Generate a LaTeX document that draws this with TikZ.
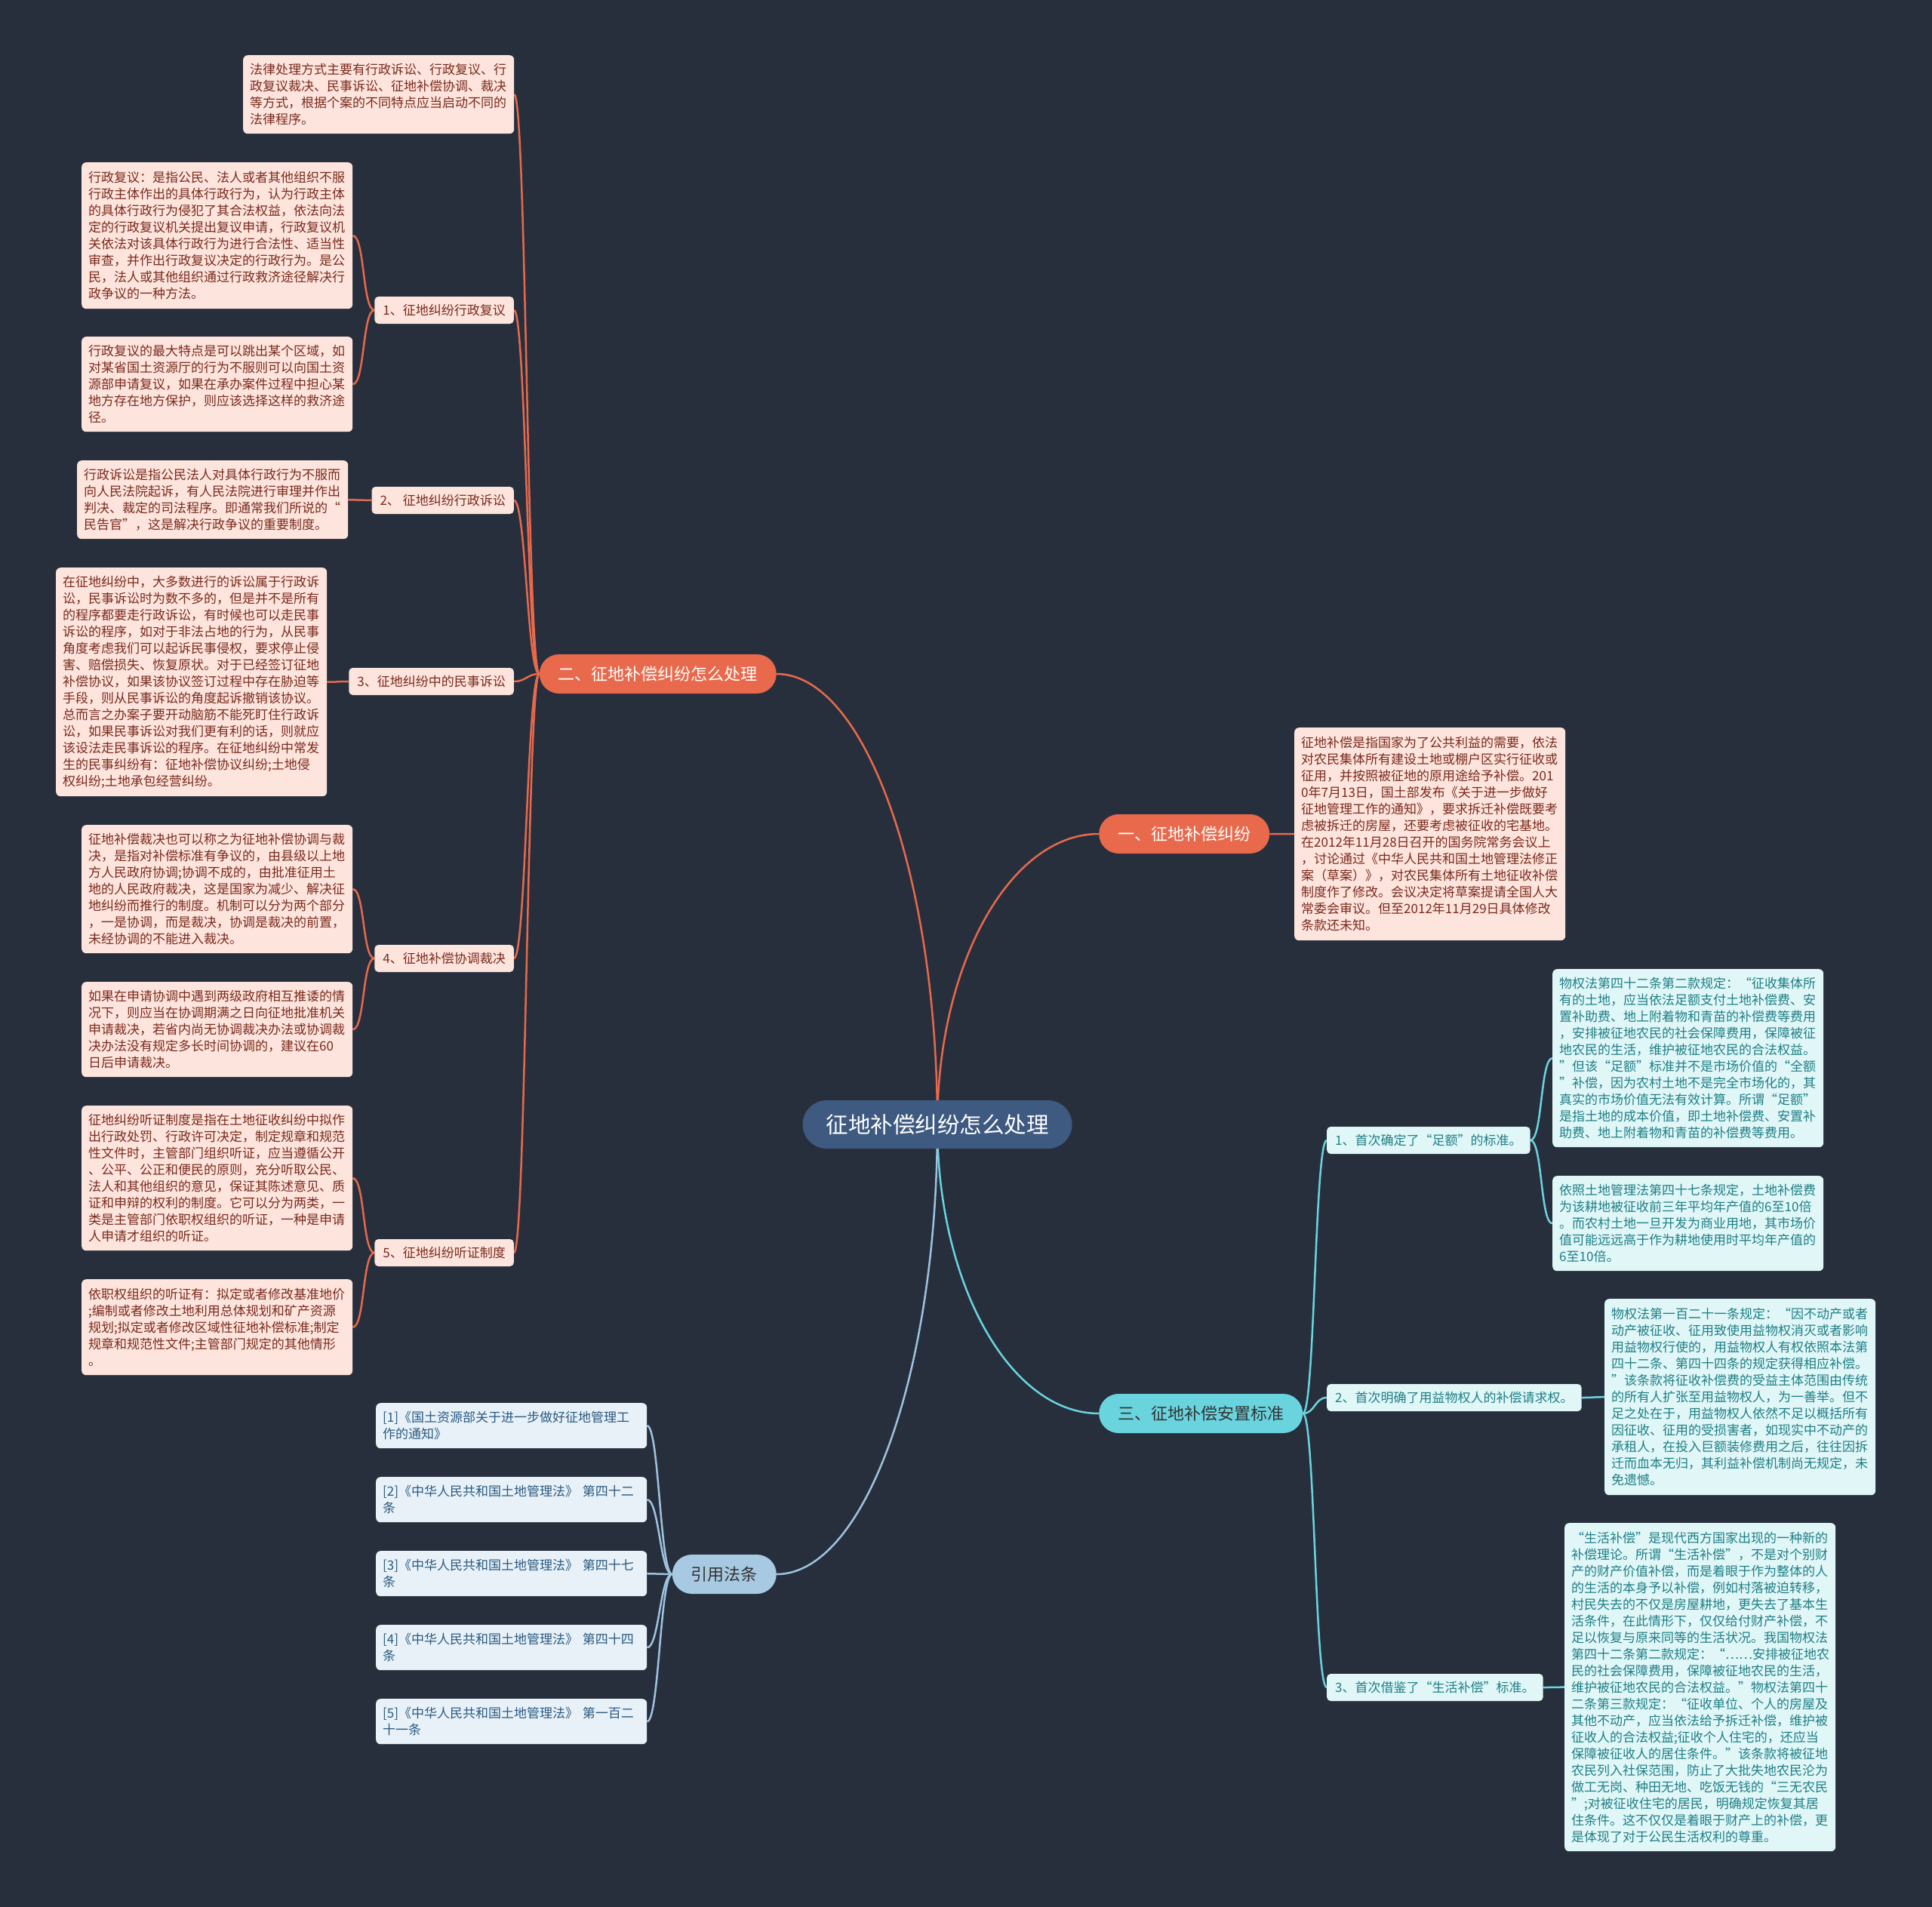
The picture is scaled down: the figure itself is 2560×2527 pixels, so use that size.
\documentclass[tikz,border=0pt]{standalone}
\usepackage{fontspec}
\setmainfont{Noto Sans CJK SC}
\definecolor{bgc}{HTML}{272F3D}
\definecolor{opink}{HTML}{FDE4DD}
\definecolor{otext}{HTML}{7A2A1C}
\definecolor{oline}{HTML}{E8694C}
\definecolor{ofill}{HTML}{E8694C}
\definecolor{cpale}{HTML}{E0F6F7}
\definecolor{ctext}{HTML}{1E7F86}
\definecolor{cline}{HTML}{6AD4DE}
\definecolor{cfill}{HTML}{6AD4DE}
\definecolor{bpale}{HTML}{E8F1F8}
\definecolor{btext}{HTML}{2A5A80}
\definecolor{bline}{HTML}{9EC3DF}
\definecolor{bfill}{HTML}{A8C9E2}
\definecolor{centfill}{HTML}{3E5A80}
\pgfdeclarelayer{bgl}
\pgfdeclarelayer{edgel}
\pgfsetlayers{bgl,edgel,main}
\tikzset{
  x=1pt, y=-1pt,
  cnode/.style={fill=centfill, text=white, font=\fontsize{29.5pt}{32pt}\selectfont, rounded corners=32pt, minimum height=64pt, inner xsep=31pt, inner ysep=0pt},
  onode/.style={fill=ofill, text=white, font=\fontsize{22pt}{26pt}\selectfont, rounded corners=26pt, minimum height=52pt, inner xsep=25pt, inner ysep=0pt},
  cynode/.style={onode, fill=cfill, text=black!80},
  blnode/.style={onode, fill=bfill, text=black!80},
  olabel/.style={fill=opink, text=otext, font=\fontsize{17pt}{22pt}\selectfont, rounded corners=5pt, minimum height=36pt, inner xsep=11pt, inner ysep=0pt},
  clabel/.style={olabel, fill=cpale, text=ctext},
  obox/.style={fill=opink, text=otext, font=\fontsize{17pt}{22pt}\selectfont, rounded corners=6pt, inner xsep=9pt, inner ysep=0pt, text width=341pt, align=left, anchor=north west},
  cbox/.style={obox, fill=cpale, text=ctext},
  bbox/.style={obox, fill=bpale, text=btext},
  olink/.style={draw=oline, line width=2.5pt},
  clink/.style={draw=cline, line width=2.5pt},
  blink/.style={draw=bline, line width=2.5pt},
}
\newcommand{\leftlink}[3]{\draw[#1] (#2.west) .. controls +(-16,0) and +(16,0) .. (#3.east);}
\newcommand{\rightlink}[3]{\draw[#1] (#2.east) .. controls +(16,0) and +(-16,0) .. (#3.west);}
\begin{document}
\begin{tikzpicture}
\begin{pgfonlayer}{bgl}
\fill[bgc] (0,0) rectangle (2560,2527);
\end{pgfonlayer}
\useasboundingbox (0,0) rectangle (2560,2527);

% central and branches
\node[cnode] (C) at (1242,1490) {征地补偿纠纷怎么处理};
\node[onode, anchor=east] (B2) at (1029,893) {二、征地补偿纠纷怎么处理};
\node[onode, anchor=west] (B1) at (1456,1105) {一、征地补偿纠纷};
\node[cynode, anchor=west] (B3) at (1456,1873) {三、征地补偿安置标准};
\node[blnode, anchor=east] (B4) at (1029,2086) {引用法条};

% left sub labels
\node[olabel, anchor=east] (S1) at (681,411) {1、征地纠纷行政复议};
\node[olabel, anchor=east] (S2) at (681,663) {2、 征地纠纷行政诉讼};
\node[olabel, anchor=east] (S3) at (681,903) {3、征地纠纷中的民事诉讼};
\node[olabel, anchor=east] (S4) at (681,1270) {4、征地补偿协调裁决};
\node[olabel, anchor=east] (S5) at (681,1660) {5、征地纠纷听证制度};

% right sub labels
\node[clabel, anchor=west] (Q1) at (1758,1511) {1、首次确定了“足额”的标准。};
\node[clabel, anchor=west] (Q2) at (1758,1852) {2、首次明确了用益物权人的补偿请求权。};
\node[clabel, anchor=west] (Q3) at (1758,2236) {3、首次借鉴了“生活补偿”标准。};

% left boxes
\node[obox, minimum height=104pt] (T0) at (322,73) {法律处理方式主要有行政诉讼、行政复议、行\\政复议裁决、民事诉讼、征地补偿协调、裁决\\等方式，根据个案的不同特点应当启动不同的\\法律程序。};
\node[obox, minimum height=194pt] (A1) at (108,215) {行政复议：是指公民、法人或者其他组织不服\\行政主体作出的具体行政行为，认为行政主体\\的具体行政行为侵犯了其合法权益，依法向法\\定的行政复议机关提出复议申请，行政复议机\\关依法对该具体行政行为进行合法性、适当性\\审查，并作出行政复议决定的行政行为。是公\\民，法人或其他组织通过行政救济途径解决行\\政争议的一种方法。};
\node[obox, minimum height=126pt] (A2) at (108,446) {行政复议的最大特点是可以跳出某个区域，如\\对某省国土资源厅的行为不服则可以向国土资\\源部申请复议，如果在承办案件过程中担心某\\地方存在地方保护，则应该选择这样的救济途\\径。};
\node[obox, minimum height=104pt] (P2) at (102,610) {行政诉讼是指公民法人对具体行政行为不服而\\向人民法院起诉，有人民法院进行审理并作出\\判决、裁定的司法程序。即通常我们所说的“\\民告官”，这是解决行政争议的重要制度。};
\node[obox, minimum height=303pt] (C1) at (74,752) {在征地纠纷中，大多数进行的诉讼属于行政诉\\讼，民事诉讼时为数不多的，但是并不是所有\\的程序都要走行政诉讼，有时候也可以走民事\\诉讼的程序，如对于非法占地的行为，从民事\\角度考虑我们可以起诉民事侵权，要求停止侵\\害、赔偿损失、恢复原状。对于已经签订征地\\补偿协议，如果该协议签订过程中存在胁迫等\\手段，则从民事诉讼的角度起诉撤销该协议。\\总而言之办案子要开动脑筋不能死盯住行政诉\\讼，如果民事诉讼对我们更有利的话，则就应\\该设法走民事诉讼的程序。在征地纠纷中常发\\生的民事纠纷有：征地补偿协议纠纷;土地侵\\权纠纷;土地承包经营纠纷。};
\node[obox, minimum height=170pt] (D1) at (108,1093) {征地补偿裁决也可以称之为征地补偿协调与裁\\决，是指对补偿标准有争议的，由县级以上地\\方人民政府协调;协调不成的，由批准征用土\\地的人民政府裁决，这是国家为减少、解决征\\地纠纷而推行的制度。机制可以分为两个部分\\，一是协调，而是裁决，协调是裁决的前置，\\未经协调的不能进入裁决。};
\node[obox, minimum height=126pt] (D2) at (108,1301) {如果在申请协调中遇到两级政府相互推诿的情\\况下，则应当在协调期满之日向征地批准机关\\申请裁决，若省内尚无协调裁决办法或协调裁\\决办法没有规定多长时间协调的，建议在60\\日后申请裁决。};
\node[obox, minimum height=192pt] (E1) at (108,1465) {征地纠纷听证制度是指在土地征收纠纷中拟作\\出行政处罚、行政许可决定，制定规章和规范\\性文件时，主管部门组织听证，应当遵循公开\\、公平、公正和便民的原则，充分听取公民、\\法人和其他组织的意见，保证其陈述意见、质\\证和申辩的权利的制度。它可以分为两类，一\\类是主管部门依职权组织的听证，一种是申请\\人申请才组织的听证。};
\node[obox, minimum height=127pt] (E2) at (108,1695) {依职权组织的听证有：拟定或者修改基准地价\\;编制或者修改土地利用总体规划和矿产资源\\规划;拟定或者修改区域性征地补偿标准;制定\\规章和规范性文件;主管部门规定的其他情形\\。};

% right boxes
\node[obox, minimum height=282pt] (R1) at (1715,964) {征地补偿是指国家为了公共利益的需要，依法\\对农民集体所有建设土地或棚户区实行征收或\\征用，并按照被征地的原用途给予补偿。201\\0年7月13日，国土部发布《关于进一步做好\\征地管理工作的通知》，要求拆迁补偿既要考\\虑被拆迁的房屋，还要考虑被征收的宅基地。\\在2012年11月28日召开的国务院常务会议上\\，讨论通过《中华人民共和国土地管理法修正\\案（草案）》，对农民集体所有土地征收补偿\\制度作了修改。会议决定将草案提请全国人大\\常委会审议。但至2012年11月29日具体修改\\条款还未知。};
\node[cbox, minimum height=236pt] (G1) at (2057,1284) {物权法第四十二条第二款规定：“征收集体所\\有的土地，应当依法足额支付土地补偿费、安\\置补助费、地上附着物和青苗的补偿费等费用\\，安排被征地农民的社会保障费用，保障被征\\地农民的生活，维护被征地农民的合法权益。\\”但该“足额”标准并不是市场价值的“全额\\”补偿，因为农村土地不是完全市场化的，其\\真实的市场价值无法有效计算。所谓“足额”\\是指土地的成本价值，即土地补偿费、安置补\\助费、地上附着物和青苗的补偿费等费用。};
\node[cbox, minimum height=126pt] (G2) at (2057,1558) {依照土地管理法第四十七条规定，土地补偿费\\为该耕地被征收前三年平均年产值的6至10倍\\。而农村土地一旦开发为商业用地，其市场价\\值可能远远高于作为耕地使用时平均年产值的\\6至10倍。};
\node[cbox, minimum height=260pt] (H1) at (2126,1721) {物权法第一百二十一条规定：“因不动产或者\\动产被征收、征用致使用益物权消灭或者影响\\用益物权行使的，用益物权人有权依照本法第\\四十二条、第四十四条的规定获得相应补偿。\\”该条款将征收补偿费的受益主体范围由传统\\的所有人扩张至用益物权人，为一善举。但不\\足之处在于，用益物权人依然不足以概括所有\\因征收、征用的受损害者，如现实中不动产的\\承租人，在投入巨额装修费用之后，往往因拆\\迁而血本无归，其利益补偿机制尚无规定，未\\免遗憾。};
\node[cbox, minimum height=435pt] (I1) at (2073,2018) {“生活补偿”是现代西方国家出现的一种新的\\补偿理论。所谓“生活补偿”，不是对个别财\\产的财产价值补偿，而是着眼于作为整体的人\\的生活的本身予以补偿，例如村落被迫转移，\\村民失去的不仅是房屋耕地，更失去了基本生\\活条件，在此情形下，仅仅给付财产补偿，不\\足以恢复与原来同等的生活状况。我国物权法\\第四十二条第二款规定：“……安排被征地农\\民的社会保障费用，保障被征地农民的生活，\\维护被征地农民的合法权益。”物权法第四十\\二条第三款规定：“征收单位、个人的房屋及\\其他不动产，应当依法给予拆迁补偿，维护被\\征收人的合法权益;征收个人住宅的，还应当\\保障被征收人的居住条件。”该条款将被征地\\农民列入社保范围，防止了大批失地农民沦为\\做工无岗、种田无地、吃饭无钱的“三无农民\\”;对被征收住宅的居民，明确规定恢复其居\\住条件。这不仅仅是着眼于财产上的补偿，更\\是体现了对于公民生活权利的尊重。};

% references
\node[bbox, minimum height=60pt] (F1) at (498,1859) {[1]《国土资源部关于进一步做好征地管理工\\作的通知》};
\node[bbox, minimum height=60pt] (F2) at (498,1957) {[2]《中华人民共和国土地管理法》 第四十二\\条};
\node[bbox, minimum height=60pt] (F3) at (498,2055) {[3]《中华人民共和国土地管理法》 第四十七\\条};
\node[bbox, minimum height=60pt] (F4) at (498,2153) {[4]《中华人民共和国土地管理法》 第四十四\\条};
\node[bbox, minimum height=60pt] (F5) at (498,2251) {[5]《中华人民共和国土地管理法》 第一百二\\十一条};

\begin{pgfonlayer}{edgel}
\draw[olink] (C.center) .. controls +(0,-328) and +(117,0) .. (B2.east);
\draw[olink] (C.center) .. controls +(0,-212) and +(-118,0) .. (B1.west);
\draw[clink] (C.center) .. controls +(0,211) and +(-118,0) .. (B3.west);
\draw[blink] (C.center) .. controls +(0,328) and +(117,0) .. (B4.east);
\leftlink{olink}{B2}{T0}
\leftlink{olink}{B2}{S1}
\leftlink{olink}{B2}{S2}
\leftlink{olink}{B2}{S3}
\leftlink{olink}{B2}{S4}
\leftlink{olink}{B2}{S5}
\leftlink{olink}{S1}{A1}
\leftlink{olink}{S1}{A2}
\leftlink{olink}{S2}{P2}
\leftlink{olink}{S3}{C1}
\leftlink{olink}{S4}{D1}
\leftlink{olink}{S4}{D2}
\leftlink{olink}{S5}{E1}
\leftlink{olink}{S5}{E2}
\rightlink{olink}{B1}{R1}
\rightlink{clink}{B3}{Q1}
\rightlink{clink}{B3}{Q2}
\rightlink{clink}{B3}{Q3}
\rightlink{clink}{Q1}{G1}
\rightlink{clink}{Q1}{G2}
\rightlink{clink}{Q2}{H1}
\rightlink{clink}{Q3}{I1}
\leftlink{blink}{B4}{F1}
\leftlink{blink}{B4}{F2}
\leftlink{blink}{B4}{F3}
\leftlink{blink}{B4}{F4}
\leftlink{blink}{B4}{F5}
\end{pgfonlayer}
\end{tikzpicture}
\end{document}
